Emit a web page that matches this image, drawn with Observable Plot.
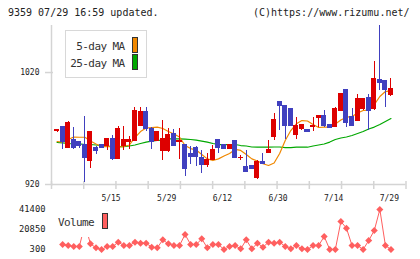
<!DOCTYPE html>
<html><head><meta charset="utf-8">
<script src="https://cdn.jsdelivr.net/npm/d3@7"></script>
<script src="https://cdn.jsdelivr.net/npm/@observablehq/plot@0.6"></script>
<style>
body{margin:0;background:#fff;}
#wrap{position:relative;width:420px;height:259px;overflow:hidden;background:#fff;font-family:"DejaVu Sans Mono",monospace;color:#222;}
#wrap svg{position:absolute;left:0;}
.abs{position:absolute;white-space:nowrap;}
.t10{font-size:10px;line-height:10px;}
.t11{font-size:11px;line-height:11px;letter-spacing:-0.6px;color:#333;}
.sw{position:absolute;box-sizing:border-box;border:1px solid #333;}
</style></head><body><div id="wrap"></div>
<script>
// ---- data ----
const openP = [967.5, 971, 953, 960, 958, 955, 941, 953, 955.5, 954,
  961, 943, 954, 958, 959, 972.5, 984.5, 970, 958.5, 950,
  949.5, 965, 958, 955, 947, 953, 944, 937.5, 942, 960,
  955.5, 951.5, 958.5, 943.5, 935.5, 936.5, 926, 940, 948, 962,
  993.5, 990.5, 987, 964, 970, 968.5, 971.5, 979, 981.5, 973.5,
  971, 986, 1004, 980, 977, 987, 997, 987, 1013, 1012, 999.5];
const closeP = [968.5, 958, 975, 953, 954, 944, 967, 950, 953, 961,
  943, 970, 960, 960, 986, 984.5, 969.5, 958, 966.5, 961,
  964.5, 954, 959, 933.5, 945, 945, 937.5, 941.5, 950.5, 953,
  952, 955, 944, 944, 931, 933.5, 940, 938, 950.5, 978,
  990.5, 972, 972, 972, 973.5, 966.5, 972, 981.5, 972.5, 970.5,
  987, 1000.5, 974.5, 972, 996.5, 996, 986, 1014, 1011, 1004, 1005];
const highP = [969, 971, 976, 971, 958.5, 981, 967.5, 953.5, 956, 961.5,
  964, 972, 972, 963, 988.5, 989, 989, 970.5, 967, 977,
  970, 969, 970, 955.5, 954, 954, 950.5, 947.5, 955, 960.5,
  956, 955.5, 959, 946, 950.5, 937, 941.5, 948, 959.5, 983,
  994, 991, 987.5, 980, 974, 969, 980, 982, 986, 974,
  988.5, 1001, 1004.5, 988, 1000.5, 996.5, 1000.5, 1030, 1062, 1012.5, 1014.5];
const lowP = [966.5, 951, 952.5, 951, 952.5, 922, 934.5, 947, 952, 950,
  941, 942.5, 950, 951.5, 958.5, 972, 967, 951, 958, 941,
  949, 953.5, 942, 927.5, 938, 936, 930, 935, 941.5, 947.5,
  951.5, 951, 943, 941, 930.5, 933, 924.5, 937.5, 947.5, 959.5,
  968, 960, 971.5, 960, 968, 966, 967, 971, 971, 970,
  970.5, 985.5, 971, 971.5, 976.5, 986.5, 968, 986.5, 1004, 989, 999];
const ma5 = [958.4, 957.9, 960.2, 962.4, 962.2, 962.2, 958.8, 956.2, 953.9, 953.9,
  953.9, 953.5, 953.9, 955.3, 962, 967.3, 970.4, 970.9, 971.2, 970,
  967.3, 965.1, 962.4, 954.8, 952.1, 950.8, 946.8, 942.9, 941.4, 942.9,
  945.4, 947.7, 951.3, 950.4, 946.8, 942.9, 941, 938.5, 937, 939.2,
  947.7, 959.3, 968.2, 974.2, 977.1, 976.7, 973.6, 970.9, 971.3, 971.3,
  974, 977.6, 980.1, 980.7, 983.8, 986.1, 986.5, 991.4, 998.6, 1003, 1003.9];
const ma25 = [957.5, 957.1, 956.6, 956.3, 956.2, 955.7, 955.7, 955.3, 954.8, 954.4,
  953.9, 953.9, 953.9, 954.4, 955.3, 956.6, 957.8, 958.8, 959.3, 959.7,
  960.8, 960.8, 960.8, 960.6, 960.2, 959.7, 958.8, 957.9, 956.6, 955.7,
  955.7, 955.7, 955.7, 954.8, 954.4, 953.5, 953.3, 953.3, 953.3, 953.5,
  953.5, 953, 953, 953.3, 953.3, 953.3, 954.4, 955.3, 956.2, 957.9,
  960.2, 961.5, 962.4, 963.8, 965.5, 967.3, 969.6, 971.3, 973.6, 976.3, 978.9];
const volume = [null, 5438, 4410, 3383, 3383, 26000, 6123, 2013, 300, 3383,
  3383, 7835, 4410, 4410, 7835, 6808, 6808, 2698, 2013, 10233,
  6123, 4410, 4410, 15713, 5438, 5438, 11260, 2013, 5438, 5438,
  300, 3383, 4410, 985, 10233, 985, 6808, 2698, 7835, 6808,
  7835, 3383, 985, 4410, 985, 300, 4410, 4410, 13658, 300,
  300, 29070, 22220, 4410, 4410, 300, 9548, 19823, 41400, 4410, 300];
const dateLabels = ["5/15", "5/29", "6/12", "6/30", "7/14", "7/29"];
const dateLabelPos = [9.7, 19.7, 29.7, 39.7, 49.7, 59.7];
const priceTicks = [920, 1020];
const volumeTicks = [300, 20850, 41400];
const titleLeft = "9359 07/29 16:59 updated.";
const titleRight = "(C)https://www.rizumu.net/";

// ---- styling ----
const UP = "#dd0000", DOWN = "#4040bf", MA5C = "#f08800", MA25C = "#00a800", VOLC = "#ff5f5f", AXC = "#d4d4d4";
const xDomain = [-1, 62.7];
const gridTicks = d3.range(12).map(k => xDomain[0] + k * (xDomain[1] - xDomain[0]) / 11);

const rows = openP.map((o, i) => ({i, o, c: closeP[i], h: highP[i], l: lowP[i], m5: ma5[i], m25: ma25[i], v: volume[i]}));

const main = Plot.plot({
  width: 420, height: 205,
  marginLeft: 51, marginRight: 14.5, marginTop: 25, marginBottom: 21,
  style: {background: "transparent", fontFamily: "DejaVu Sans Mono, monospace", fontSize: "8px", color: "#222", overflow: "visible"},
  x: {domain: xDomain, axis: null, label: null},
  y: {domain: [920, 1062], axis: null, label: null},
  marks: [
    Plot.ruleY([920], {stroke: AXC, strokeWidth: 1.5}),
    Plot.ruleX([xDomain[0]], {stroke: AXC, strokeWidth: 1.5}),
    Plot.axisX(gridTicks, {label: null, tickSize: 8, dy: -3, stroke: AXC, strokeWidth: 1.5, tickFormat: () => ""}),
    Plot.axisX(dateLabelPos, {label: null, tickSize: 0, tickPadding: 11, fontSize: 8, tickFormat: d => dateLabels[dateLabelPos.indexOf(d)]}),
    Plot.axisY(priceTicks, {label: null, tickSize: 8, dx: 2, tickPadding: 6, stroke: AXC, strokeWidth: 1.5, fontSize: 8, tickFormat: d => String(d)}),
    Plot.line(rows, {x: "i", y: "m25", stroke: MA25C, strokeWidth: 1.2}),
    Plot.line(rows, {x: "i", y: "m5", stroke: MA5C, strokeWidth: 1.2}),
    Plot.ruleX(rows, {x: "i", y1: "l", y2: "h", stroke: d => d.c >= d.o ? UP : DOWN, strokeWidth: 1, shapeRendering: "crispEdges"}),
    Plot.rect(rows, {x1: d => d.i - 0.45, x2: d => d.i + 0.45, y1: d => Math.min(d.o, d.c), y2: d => Math.max(d.o, d.c),
      fill: d => d.c >= d.o ? UP : DOWN, insetTop: -0.5, insetBottom: -0.5, shapeRendering: "crispEdges"})
  ]
});
main.style.top = "0px";

const vol = Plot.plot({
  width: 420, height: 55,
  marginLeft: 51, marginRight: 14.5, marginTop: 5, marginBottom: 10,
  style: {background: "transparent", fontFamily: "DejaVu Sans Mono, monospace", fontSize: "8.8px", color: "#222", overflow: "visible"},
  x: {domain: xDomain, axis: null, label: null},
  y: {domain: [300, 41400], axis: null, label: null},
  marks: [
    Plot.axisY(volumeTicks, {label: null, tickSize: 0, tickPadding: 6, fontSize: 8.8, tickFormat: d => String(d)}),
    Plot.line(rows, {x: "i", y: "v", stroke: VOLC, strokeWidth: 1, defined: d => d.v != null}),
    Plot.dot(rows.filter(d => d.v != null), {x: "i", y: "v", symbol: "square", r: 2.8, rotate: 45, fill: VOLC, stroke: "none"})
  ]
});
vol.style.top = "204px";

const wrap = document.getElementById("wrap");
wrap.appendChild(main);
wrap.appendChild(vol);

function el(cls, css, text) {
  const d = document.createElement("div");
  d.className = cls;
  d.style.cssText = css;
  if (text != null) d.textContent = text;
  wrap.appendChild(d);
  return d;
}
el("abs t10", "left:8px;top:8px;", titleLeft);
el("abs t10", "right:10.5px;top:8px;", titleRight);
// price legend
el("abs", "left:65px;top:30px;width:82px;height:48px;box-sizing:border-box;border:1px solid #d8d8d8;background:#fff;");
el("abs t11", "right:295.5px;top:40.5px;text-align:right;", "5-day MA");
el("abs t11", "right:295.5px;top:58px;text-align:right;", "25-day MA");
el("sw", `left:131.5px;top:37px;width:6px;height:16px;background:${MA5C};`);
el("sw", `left:131.5px;top:54px;width:6px;height:16px;background:${MA25C};`);
// volume legend
el("abs", "left:55px;top:205px;width:55px;height:32px;background:#fff;");
el("abs t11", "left:58px;top:216.5px;", "Volume");
el("sw", `left:101.5px;top:212.5px;width:6px;height:16px;background:${VOLC};`);
</script>
</body></html>
